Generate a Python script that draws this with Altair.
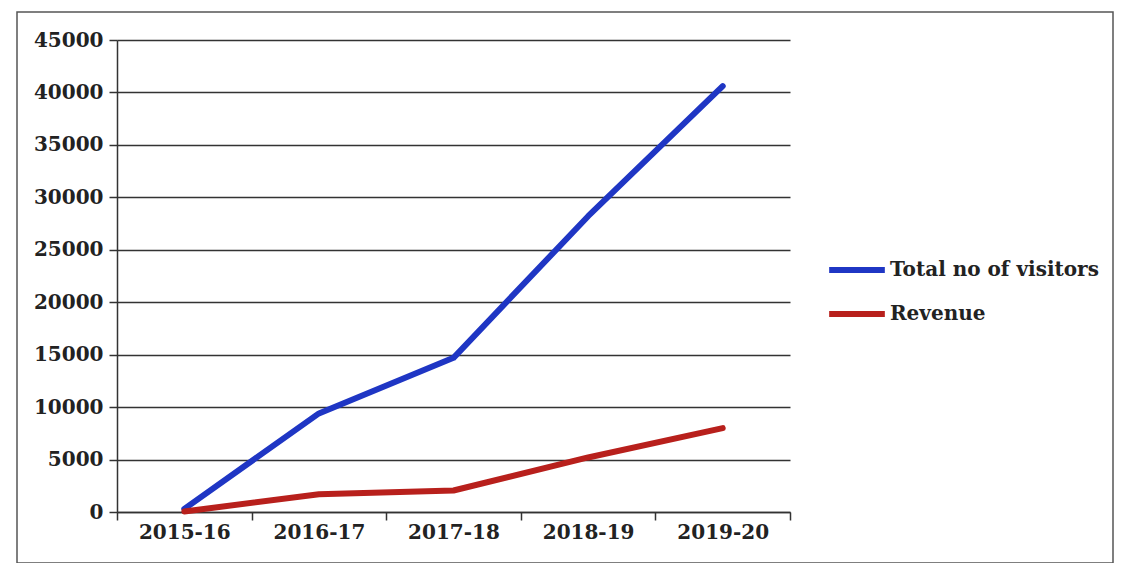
import altair as alt
import pandas as pd

years = ["2015-16", "2016-17", "2017-18", "2018-19", "2019-20"]
visitors = [300, 9400, 14700, 28200, 40600]
revenue = [50, 1700, 2050, 5200, 8000]
series_names = ["Total no of visitors", "Revenue"]
series_colors = ["#1f36c4", "#b8201c"]

rows = []
for y, v in zip(years, visitors):
    rows.append({"year": y, "value": v, "series": series_names[0]})
for y, v in zip(years, revenue):
    rows.append({"year": y, "value": v, "series": series_names[1]})
df = pd.DataFrame(rows)

FONT = "DejaVu Serif"

lines = alt.Chart(df).mark_line(strokeWidth=6, strokeCap="round", strokeJoin="round").encode(
    x=alt.X("year:N", sort=years, title=None,
            scale=alt.Scale(type="band", paddingInner=0, paddingOuter=0),
            axis=alt.Axis(labelAngle=0, labelFont=FONT, labelFontWeight="bold", labelFontSize=20,
                          labelColor="#222", labelPadding=2, tickColor="#333", tickSize=8,
                          tickBand="extent", domainColor="#333", domainWidth=1.5, tickWidth=1.5,
                          grid=False)),
    y=alt.Y("value:Q", title=None,
            scale=alt.Scale(domain=[0, 45000]),
            axis=alt.Axis(values=list(range(0, 45001, 5000)), format="d", labelFont=FONT,
                          labelFontWeight="bold", labelFontSize=20, labelColor="#222",
                          labelPadding=6, tickSize=8,
                          tickColor="#333", tickWidth=1.5, domainColor="#333", domainWidth=1.5,
                          grid=True, gridColor="#333", gridWidth=1.5)),
    color=alt.Color("series:N", sort=series_names,
                    scale=alt.Scale(domain=series_names, range=series_colors),
                    legend=alt.Legend(title=None, orient="none", legendX=709, legendY=219,
                                      symbolType="stroke", symbolSize=3100, symbolStrokeWidth=6,
                                      labelFont=FONT, labelFontWeight="bold", labelFontSize=20,
                                      labelColor="#222", labelOffset=2, labelLimit=0,
                                      clipHeight=22, rowPadding=22)),
)

frame = alt.Chart(pd.DataFrame({"k": [0]})).mark_rect(
    fill=None, stroke="#555", strokeWidth=1.5
).encode(x=alt.value(-100), x2=alt.value(996), y=alt.value(-28), y2=alt.value(523))

chart = alt.layer(frame, lines).properties(
    width=673, height=472,
    autosize=alt.AutoSizeParams(type="none"),
    padding={"left": 109, "top": 32, "right": 326, "bottom": 51},
).configure_view(stroke=None)

chart.save("out.html", embed_options={"renderer": "svg", "actions": False})
